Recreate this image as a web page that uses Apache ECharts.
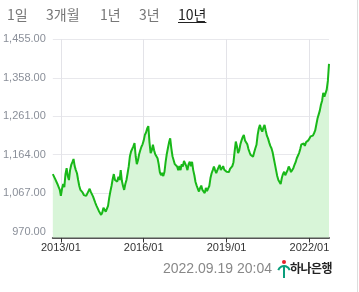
<!DOCTYPE html>
<html>
<head>
<meta charset="utf-8">
<script src="https://cdn.jsdelivr.net/npm/echarts@6/dist/echarts.min.js"></script>
<style>
html,body{margin:0;padding:0;background:#fff;}
#wrap{position:relative;width:359px;height:292px;overflow:hidden;}
#chart{position:absolute;left:0;top:0;width:359px;height:292px;}
.tab{position:absolute;top:4px;font-family:"Noto Sans CJK KR","Noto Sans",sans-serif;font-size:14px;color:#777;line-height:20px;}
.tab.on{color:#222;text-decoration:underline;text-underline-offset:2px;}
#stamp{position:absolute;left:163px;top:259px;font-family:"Liberation Sans","Noto Sans",sans-serif;font-size:14px;color:#888;line-height:18px;}
#logo{position:absolute;left:290px;top:259px;font-family:"Noto Sans CJK KR",sans-serif;font-size:12px;font-weight:bold;color:#222;line-height:18px;letter-spacing:-0.5px;}
#edge{position:absolute;left:357px;top:0;width:1px;height:292px;background:#ddd;}
</style>
</head>
<body>
<div id="wrap">
<div id="chart"></div>
<div class="tab" style="left:7px">1일</div>
<div class="tab" style="left:46px">3개월</div>
<div class="tab" style="left:100px">1년</div>
<div class="tab" style="left:139px">3년</div>
<div class="tab on" style="left:178px">10년</div>
<div id="stamp">2022.09.19 20:04</div>
<div id="logo">하나은행</div>
<div id="edge"></div>
</div>
<script>
// semi-monthly USD/KRW closing values, 2012/09/16 .. 2022/09/16
var rates = [
1115,1110,1103,1098,1090,1083,1076,1060,1078,1090,1082,1115,1130,1110,1100,1125,1138,1145,1153,1135,
1125,1117,1100,1085,1075,1070,1068,1062,1058,1060,1058,1072,1078,1070,1067,1058,1050,1042,1035,1030,
1022,1018,1012,1018,1030,1025,1020,1016,1035,1055,1071,1085,1102,1115,1100,1098,1096,1108,1100,1125,
1098,1085,1075,1090,1100,1117,1135,1160,1172,1168,1185,1193,1160,1140,1150,1165,1175,1184,1190,1200,
1214,1220,1230,1236,1195,1168,1175,1189,1175,1165,1160,1155,1140,1120,1112,1118,1110,1120,1145,1165,
1180,1195,1205,1180,1160,1150,1140,1145,1134,1125,1135,1125,1140,1134,1148,1151,1135,1125,1140,1146,
1135,1146,1125,1112,1095,1086,1078,1071,1080,1086,1075,1070,1067,1080,1072,1079,1085,1105,1117,1125,
1134,1125,1117,1125,1132,1138,1125,1121,1135,1126,1130,1121,1123,1120,1128,1132,1135,1145,1172,1197,
1185,1168,1175,1190,1200,1208,1214,1200,1195,1190,1178,1170,1163,1168,1159,1170,1180,1189,1214,1230,
1239,1228,1222,1232,1239,1225,1212,1205,1195,1186,1180,1170,1155,1140,1125,1110,1100,1095,1090,1105,
1115,1121,1112,1115,1125,1134,1128,1120,1121,1130,1138,1145,1155,1160,1168,1178,1190,1185,1192,1186,
1195,1190,1200,1202,1210,1205,1212,1218,1225,1240,1255,1265,1275,1290,1300,1320,1310,1305,1328,1350,
1393
];
var xTickLabels = ['2013/01','2016/01','2019/01','2022/01'];
var yTicks = [970,1067,1164,1261,1358,1455];

// category dates: 1st and 16th of each month, starting 2012/09/16
var dates = [];
(function(){
  var y = 2012, m = 9, half = 1;
  for (var i = 0; i < rates.length; i++) {
    var mm = (m < 10 ? '0' : '') + m;
    dates.push(y + '/' + mm + '/' + (half ? '16' : '01'));
    if (half) { half = 0; m++; if (m > 12) { m = 1; y++; } } else { half = 1; }
  }
})();

function isTick(idx, val) {
  return val.slice(8) === '01' && xTickLabels.indexOf(val.slice(0, 7)) >= 0;
}

var chart = echarts.init(document.getElementById('chart'), null, {renderer: 'canvas'});
chart.setOption({
  animation: false,
  grid: {left: 52, right: 30, top: 39.3, bottom: 54.5, containLabel: false},
  xAxis: {
    type: 'category',
    data: dates,
    boundaryGap: false,
    axisLine: {show: true, lineStyle: {color: '#555', width: 2}},
    axisTick: {show: true, interval: isTick, length: 5, lineStyle: {color: '#333', width: 1}},
    axisLabel: {
      interval: isTick,
      formatter: function (v) { return v.slice(0, 7); },
      color: '#333', fontSize: 11, margin: 5,
      fontFamily: 'Liberation Sans, Arial, sans-serif'
    },
    splitLine: {show: true, interval: isTick, lineStyle: {color: '#e3e3e8', width: 1}}
  },
  yAxis: {
    type: 'value',
    min: 955,
    max: 1455,
    axisLine: {show: false},
    axisTick: {show: false, customValues: yTicks},
    axisLabel: {
      customValues: yTicks,
      color: '#8a8f99', fontSize: 11, margin: 7,
      fontFamily: 'Liberation Sans, Arial, sans-serif',
      formatter: function (v) {
        return v.toLocaleString('en-US', {minimumFractionDigits: 2, maximumFractionDigits: 2});
      }
    },
    splitLine: {show: true, lineStyle: {color: '#e8e8ec', width: 1}}
  },
  series: [{
    type: 'line',
    data: rates,
    symbol: 'none',
    smooth: false,
    lineStyle: {color: '#19b819', width: 2},
    areaStyle: {color: '#d8f5d8', opacity: 1},
    z: 3
  }],
  graphic: [
    {type: 'circle', shape: {cx: 284, cy: 262, r: 2}, style: {fill: '#e8212b'}},
    {type: 'arc', shape: {cx: 284, cy: 272, r: 6, startAngle: Math.PI * 1.1, endAngle: Math.PI * 1.9}, style: {stroke: '#0a9e7c', lineWidth: 2, fill: null}},
    {type: 'line', shape: {x1: 284, y1: 266, x2: 284, y2: 278}, style: {stroke: '#0a9e7c', lineWidth: 2}}
  ]
});
</script>
</body>
</html>
